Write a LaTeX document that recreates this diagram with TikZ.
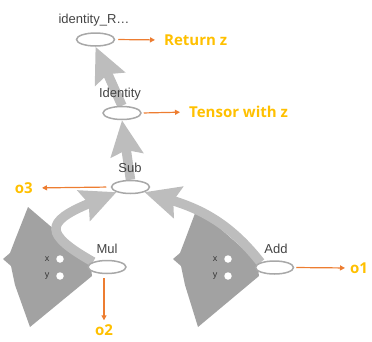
\documentclass[tikz,border=0pt]{standalone}
\usepackage{fontspec}
\setmainfont{Liberation Sans}
\newfontfamily\notefont{Open Sans}
\usetikzlibrary{shapes.geometric,arrows.meta}
\definecolor{opline}{HTML}{A8A8A8}
\definecolor{edgegray}{HTML}{BDBDBD}
\definecolor{fngray}{HTML}{A2A2A2}
\definecolor{labelgray}{HTML}{444444}
\definecolor{notegold}{HTML}{FFC000}
\definecolor{noteorange}{HTML}{ED7D31}
\pgfdeclarelayer{shapes}
\pgfdeclarelayer{edges}
\pgfsetlayers{shapes,edges,main}
\begin{document}
\begin{tikzpicture}[x=1pt,y=-1pt,
  opnode/.style={ellipse,draw=opline,line width=1.5pt,fill=white,
    minimum width=38pt,minimum height=13pt,inner sep=0pt},
  oplabel/.style={text=labelgray,font=\fontsize{13}{15}\selectfont,inner sep=0pt},
  portlabel/.style={text=labelgray!80!black,font=\fontsize{9}{10}\selectfont,inner sep=0pt},
  port/.style={circle,fill=white,minimum size=7.5pt,inner sep=0pt},
  fnshape/.style={fill=fngray},
  tedge/.style={draw=edgegray,line width=9.5pt,
    -{Stealth[length=35pt,width=32pt,inset=5pt]}},
  note/.style={text=notegold,font=\notefont\bfseries\fontsize{15}{17}\selectfont,inner sep=0pt},
  noteline/.style={draw=noteorange,line width=1.2pt,-{Triangle[length=5pt,width=5pt]}}]
\useasboundingbox (0,0) rectangle (372,341);

% function-call shapes behind the Mul and Add ops
\begin{pgfonlayer}{shapes}
\fill[fnshape] (28,207) -- (90,260) -- (92,276) -- (30,327) -- (15,285)
  -- (11,266) -- (3,259) -- (10,253) -- (15,240) -- cycle;
\fill[fnshape] (197,208) -- (257,261) -- (259,276) -- (198,327) -- (185,285)
  -- (181,266) -- (173,259) -- (180,253) -- (185,240) -- cycle;
\end{pgfonlayer}

% input ports
\node[port] (mulx) at (60,259) {};
\node[port] (muly) at (60,276) {};
\node[portlabel] (mulxl) at (47,259) {x};
\node[portlabel] (mulyl) at (47,276) {y};
\node[port] (addx) at (228,259) {};
\node[port] (addy) at (228,276) {};
\node[portlabel] (addxl) at (215,259) {x};
\node[portlabel] (addyl) at (215,276) {y};

% op nodes
\node[opnode] (identR) at (95.5,39.5) {};
\node[opnode] (ident) at (122,113) {};
\node[opnode] (sub) at (130.5,187) {};
\node[opnode] (mul) at (107,267) {};
\node[opnode] (add) at (274.5,267.5) {};

% op names
\node[oplabel] (identRlbl) at (94,20) {identity\_R\ldots};
\node[oplabel] (identlbl) at (120,94) {Identity};
\node[oplabel] (sublbl) at (130,168) {Sub};
\node[oplabel] (mullbl) at (107,249) {Mul};
\node[oplabel] (addlbl) at (276,249) {Add};

% tensor edges
\begin{pgfonlayer}{edges}
\draw[tedge] (ident.north) -- (identR.south);
\draw[tedge] (sub.north) -- (ident.south);
\draw[tedge] (mul.north west) .. controls (44,234) and (44,222) .. (sub.south west);
\draw[tedge] (add.north west) .. controls (232,226) and (204,210) .. (sub.south east);
\end{pgfonlayer}

% annotations
\node[note,anchor=west] (retz) at (164,40) {Return z};
\node[note,anchor=west] (tens) at (189,112) {Tensor with z};
\node[note,anchor=east] (o3) at (33,188) {o3};
\node[note] (o2) at (104,330) {o2};
\node[note,anchor=west] (o1) at (350,268) {o1};

\draw[noteline,shorten <=3pt,shorten >=9pt] (identR.east) -- (retz.west);
\draw[noteline,shorten <=2pt,shorten >=9pt] (ident.east) -- (tens.west);
\draw[noteline,shorten <=4.5pt,shorten >=9pt] (sub.west) -- (o3.east);
\draw[noteline,shorten <=4pt,shorten >=4pt] (o2 |- mul.south) -- (o2.north);
\draw[noteline,shorten <=2pt,shorten >=5pt] (add.east) -- (o1.west);
\end{tikzpicture}
\end{document}
